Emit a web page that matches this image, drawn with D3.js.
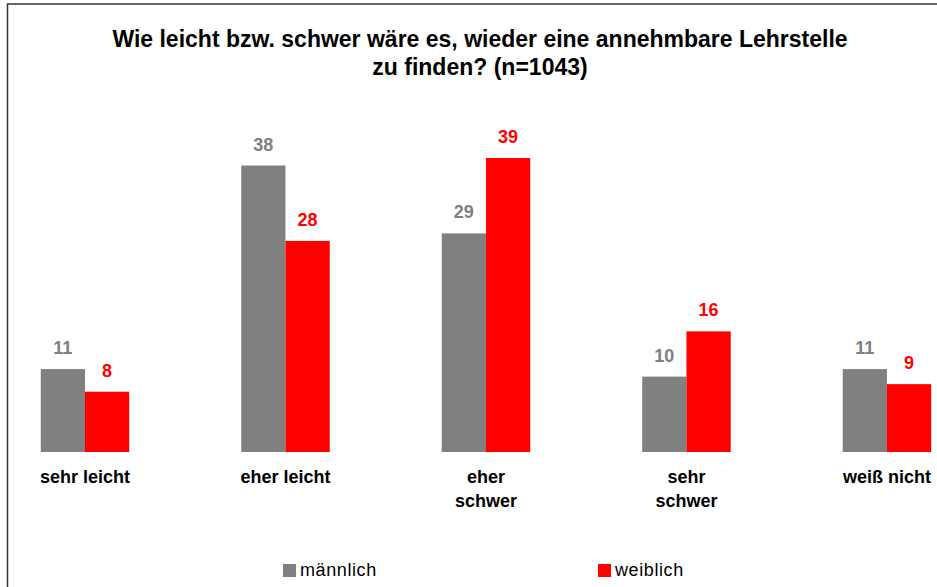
<!DOCTYPE html>
<html>
<head>
<meta charset="utf-8">
<script src="https://cdn.jsdelivr.net/npm/d3@7/dist/d3.min.js"></script>
<style>
  html, body { margin: 0; padding: 0; background: #fff; }
  svg { display: block; font-family: "Liberation Sans", Arial, Helvetica, sans-serif; }
</style>
</head>
<body>
<svg id="chart" width="937" height="587"></svg>
<script>
// Answer categories (line breaks for multi-line axis labels)
const categories = ["sehr leicht", "eher leicht", "eher\nschwer", "sehr\nschwer", "weiß nicht"];
const seriesNames = ["männlich", "weiblich"];
const maleValues = [11, 38, 29, 10, 11];
const femaleValues = [8, 28, 39, 16, 9];
const seriesColors = ["#808080", "#ff0000"];
const titleLines = ["Wie leicht bzw. schwer wäre es, wieder eine annehmbare Lehrstelle", "zu finden? (n=1043)"];

const svg = d3.select("#chart");

// Outer frame of the chart area
svg.append("rect")
  .attr("x", 7.5).attr("y", 4)
  .attr("width", 960).attr("height", 620)
  .attr("fill", "none")
  .attr("stroke", "#333")
  .attr("stroke-width", 1.5);

// Title
svg.append("text")
  .attr("x", 480).attr("y", 47)
  .attr("text-anchor", "middle")
  .attr("font-weight", "bold")
  .attr("font-size", 23)
  .attr("fill", "#000")
  .selectAll("tspan")
  .data(titleLines)
  .join("tspan")
  .attr("x", 480)
  .attr("dy", (d, i) => i === 0 ? 0 : 28)
  .text(d => d);

const rows = categories.map((c, i) => ({ cat: c, values: [maleValues[i], femaleValues[i]] }));

const x0 = d3.scaleBand()
  .domain(categories)
  .range([0.65, 971.3])
  .paddingInner(0.5586)
  .paddingOuter(0.2);

const x1 = d3.scaleBand()
  .domain(seriesNames)
  .range([0, x0.bandwidth()]);

const y = d3.scaleLinear()
  .domain([0, 39])
  .range([452, 158]);

const groups = svg.append("g")
  .selectAll("g")
  .data(rows)
  .join("g")
  .attr("transform", d => `translate(${x0(d.cat)},0)`);

const cells = groups.selectAll("g.cell")
  .data(d => d.values.map((v, j) => ({ name: seriesNames[j], value: v, color: seriesColors[j] })))
  .join("g")
  .attr("class", "cell");

cells.append("rect")
  .attr("x", d => x1(d.name))
  .attr("y", d => y(d.value))
  .attr("width", x1.bandwidth())
  .attr("height", d => y(0) - y(d.value))
  .attr("fill", d => d.color);

cells.append("text")
  .attr("x", d => x1(d.name) + x1.bandwidth() / 2)
  .attr("y", d => y(d.value) - 15)
  .attr("text-anchor", "middle")
  .attr("font-weight", "bold")
  .attr("font-size", 18)
  .attr("fill", d => d.color)
  .text(d => d.value);

// Category labels below the bars
const catLabels = svg.append("g")
  .selectAll("text")
  .data(categories)
  .join("text")
  .attr("x", d => x0(d) + x0.bandwidth() / 2)
  .attr("y", 483)
  .attr("text-anchor", "middle")
  .attr("font-weight", "bold")
  .attr("font-size", 18)
  .attr("fill", "#000");

catLabels.selectAll("tspan")
  .data(d => d.split("\n").map(t => ({ t, x: x0(d) + x0.bandwidth() / 2 })))
  .join("tspan")
  .attr("x", d => d.x)
  .attr("dy", (d, i) => i === 0 ? 0 : 24)
  .text(d => d.t);

// Legend
const legendX = [283, 598];
const legend = svg.append("g")
  .selectAll("g")
  .data(seriesNames)
  .join("g")
  .attr("transform", (d, i) => `translate(${legendX[i]},564)`);

legend.append("rect")
  .attr("width", 13).attr("height", 13)
  .attr("fill", (d, i) => seriesColors[i]);

legend.append("text")
  .attr("x", 17).attr("y", 11.5)
  .attr("font-size", 18)
  .attr("letter-spacing", 0.6)
  .attr("fill", "#000")
  .text(d => d);
</script>
</body>
</html>
